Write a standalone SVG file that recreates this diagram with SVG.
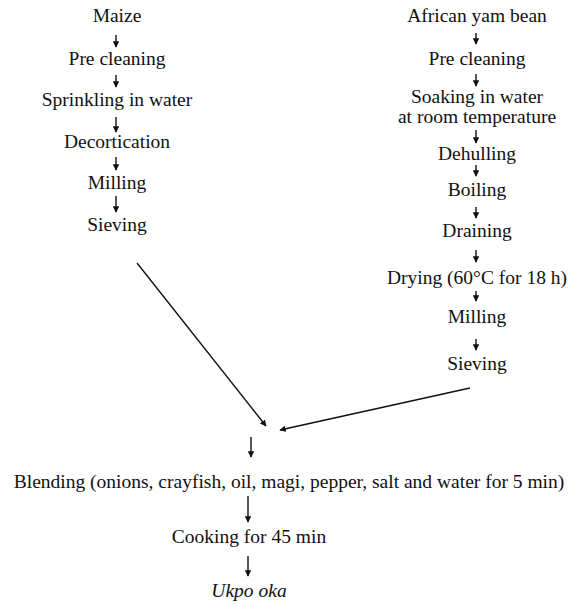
<svg xmlns="http://www.w3.org/2000/svg" width="571" height="605" viewBox="0 0 571 605">
<defs>
<marker id="ah" viewBox="0 0 10 10" refX="9" refY="5" markerWidth="6.5" markerHeight="6.5" markerUnits="userSpaceOnUse" orient="auto"><path d="M0,0 L10,5 L0,10 z" fill="#111"/></marker>
</defs>
<rect width="571" height="605" fill="#fff"/>
<g font-family="'Liberation Serif', 'Times New Roman', serif" font-size="19.5" fill="#111" text-anchor="middle">
<g id="maize"><text x="117" y="22">Maize</text></g>
<g id="m-preclean"><text x="117" y="65">Pre cleaning</text></g>
<g id="m-sprinkle"><text x="117" y="106">Sprinkling in water</text></g>
<g id="m-decort"><text x="117" y="148">Decortication</text></g>
<g id="m-mill"><text x="117" y="189">Milling</text></g>
<g id="m-sieve"><text x="117" y="231">Sieving</text></g>
<g id="ayb"><text x="477" y="22">African yam bean</text></g>
<g id="a-preclean"><text x="477" y="65">Pre cleaning</text></g>
<g id="a-soak"><text x="477" y="103">Soaking in water</text><text x="477" y="123">at room temperature</text></g>
<g id="a-dehull"><text x="477" y="160">Dehulling</text></g>
<g id="a-boil"><text x="477" y="196">Boiling</text></g>
<g id="a-drain"><text x="477" y="237">Draining</text></g>
<g id="a-dry"><text x="477" y="284">Drying (60&#176;C for 18 h)</text></g>
<g id="a-mill"><text x="477" y="323">Milling</text></g>
<g id="a-sieve"><text x="477" y="370">Sieving</text></g>
<g id="blend"><text x="289" y="488">Blending (onions, crayfish, oil, magi, pepper, salt and water for 5 min)</text></g>
<g id="cook"><text x="249" y="543">Cooking for 45 min</text></g>
<g id="ukpo"><text x="249" y="597" font-style="italic">Ukpo oka</text></g>
</g>
<g id="connectors" stroke="#111" stroke-width="1.4" fill="none">
<line x1="116" y1="35" x2="116" y2="47" marker-end="url(#ah)"/>
<line x1="116" y1="75" x2="116" y2="87" marker-end="url(#ah)"/>
<line x1="116" y1="117" x2="116" y2="132" marker-end="url(#ah)"/>
<line x1="116" y1="157" x2="116" y2="170" marker-end="url(#ah)"/>
<line x1="116" y1="196" x2="116" y2="212" marker-end="url(#ah)"/>
<line x1="476" y1="33" x2="476" y2="44" marker-end="url(#ah)"/>
<line x1="476" y1="74" x2="476" y2="86" marker-end="url(#ah)"/>
<line x1="476" y1="130" x2="476" y2="143" marker-end="url(#ah)"/>
<line x1="476" y1="165" x2="476" y2="176" marker-end="url(#ah)"/>
<line x1="476" y1="207" x2="476" y2="218" marker-end="url(#ah)"/>
<line x1="476" y1="250" x2="476" y2="262" marker-end="url(#ah)"/>
<line x1="476" y1="291" x2="476" y2="301" marker-end="url(#ah)"/>
<line x1="476" y1="339" x2="476" y2="350" marker-end="url(#ah)"/>
<line x1="137" y1="263" x2="266" y2="426" marker-end="url(#ah)"/>
<line x1="470" y1="388" x2="280" y2="430" marker-end="url(#ah)"/>
<line x1="251" y1="437" x2="251" y2="457" marker-end="url(#ah)"/>
<line x1="248" y1="496" x2="248" y2="522" marker-end="url(#ah)"/>
<line x1="248" y1="556" x2="248" y2="576" marker-end="url(#ah)"/>
</g>
</svg>
